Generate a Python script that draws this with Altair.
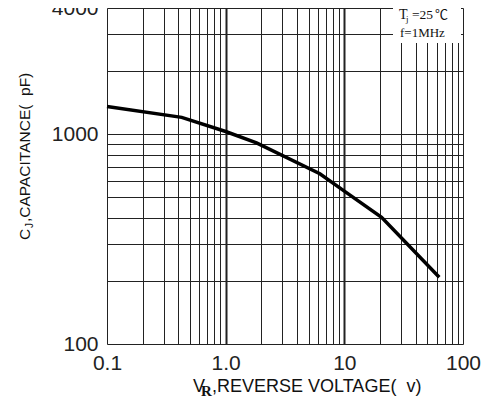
import altair as alt
import pandas as pd

# ---- data ----
voltage = [0.1, 0.426, 1.0, 1.82, 6.22, 10.0, 20.6, 63.1]
capacitance = [1355, 1204, 1031, 910, 648, 536, 402, 208]

x_grid = [0.1, 0.2, 0.3, 0.4, 0.5, 0.6, 0.7, 0.8, 0.9,
          1, 2, 3, 4, 5, 6, 7, 8, 9,
          10, 20, 30, 40, 50, 60, 70, 80, 90, 100]
y_grid = [100, 200, 300, 400, 500, 600, 700, 800, 900, 1000, 2000, 3000, 4000]

x_tick_labels = ["0.1", "1.0", "10", "100"]
y_tick_labels = ["100", "1000", "4000"]

note_lines = ["T", "j", "=25", "\u2103", "f=1MHz"]
x_title_parts = ["V", "R", ",REVERSE VOLTAGE(\u00a0\u00a0v)"]
y_title_parts = ["C", "J", ",CAPACITANCE(\u00a0\u00a0pF)"]

df = pd.DataFrame({"v": voltage, "c": capacitance})

W, H = 356, 336
SANS = "Liberation Sans"
SERIF = "Liberation Serif"

x_label_expr = ("datum.value == 0.1 ? '%s' : datum.value == 1 ? '%s' : "
                "datum.value == 10 ? '%s' : datum.value == 100 ? '%s' : ''") % tuple(x_tick_labels)
y_label_expr = ("datum.value == 100 ? '%s' : datum.value == 1000 ? '%s' : "
                "datum.value == 4000 ? '%s' : ''") % tuple(y_tick_labels)

grid_width = {"condition": {"test": "datum.value == 1 || datum.value == 10", "value": 2}, "value": 1}

line = alt.Chart(df).mark_line(color="black", strokeWidth=3.5).encode(
    x=alt.X("v:Q", title=None,
            scale=alt.Scale(type="log", domain=[0.1, 100]),
            axis=alt.Axis(values=x_grid, grid=True, gridColor="#222", gridWidth=grid_width,
                          gridOpacity=1, ticks=False, domain=False,
                          labelExpr=x_label_expr, labelFont=SANS, labelFontSize=21,
                          labelColor="#222", labelPadding=8, labelFlush=False,
                          labelOverlap=False, labelBound=False)),
    y=alt.Y("c:Q", title=None,
            scale=alt.Scale(type="log", domain=[100, 4000]),
            axis=alt.Axis(values=y_grid, grid=True, gridColor="#222", gridWidth=1,
                          gridOpacity=1, ticks=False, domain=False,
                          labelExpr=y_label_expr, labelFont=SANS, labelFontSize=21,
                          labelColor="#222", labelPadding=9, labelFlush=False,
                          labelOverlap=False, labelBound=False)),
)

one = alt.Data(values=[{}])

box = alt.Chart(one).mark_rect(color="white").encode(
    x=alt.value(286), x2=alt.value(354), y=alt.value(0), y2=alt.value(35))

def txt(text, x, y, size, font=SANS, angle=0, weight="normal"):
    return alt.Chart(one).mark_text(
        text=text, font=font, fontSize=size, align="left", baseline="alphabetic",
        angle=angle, fontWeight=weight, color="#111").encode(x=alt.value(x), y=alt.value(y))

notes = [
    txt(note_lines[0], 292, 11, 14, SERIF),
    txt(note_lines[1], 299, 14, 9, SERIF),
    txt(note_lines[2], 305, 11, 13.5, SERIF),
    txt(note_lines[3], 328, 11, 13, "Noto Sans CJK SC"),
    txt(note_lines[4], 293, 29, 13, SERIF),
]

x_title = [
    txt(x_title_parts[0], 86, 384, 18),
    txt(x_title_parts[1], 94, 388, 15, SERIF, weight="bold"),
    txt(x_title_parts[2], 105, 384, 18),
]

y_title = [
    txt(y_title_parts[0], -77, 232, 15.5, angle=270),
    txt(y_title_parts[1], -74, 220, 10, angle=270),
    txt(y_title_parts[2], -77, 214, 15.5, angle=270),
]

chart = alt.layer(line, box, *notes, *x_title, *y_title).properties(
    width=W, height=H,
    autosize=alt.AutoSizeParams(type="none"),
    padding={"left": 99, "top": 0, "right": 19, "bottom": 55},
).configure_view(stroke="#7f7f7f", strokeWidth=2).configure(background="white")

chart.save("out.html", embed_options={"renderer": "svg", "actions": False})
